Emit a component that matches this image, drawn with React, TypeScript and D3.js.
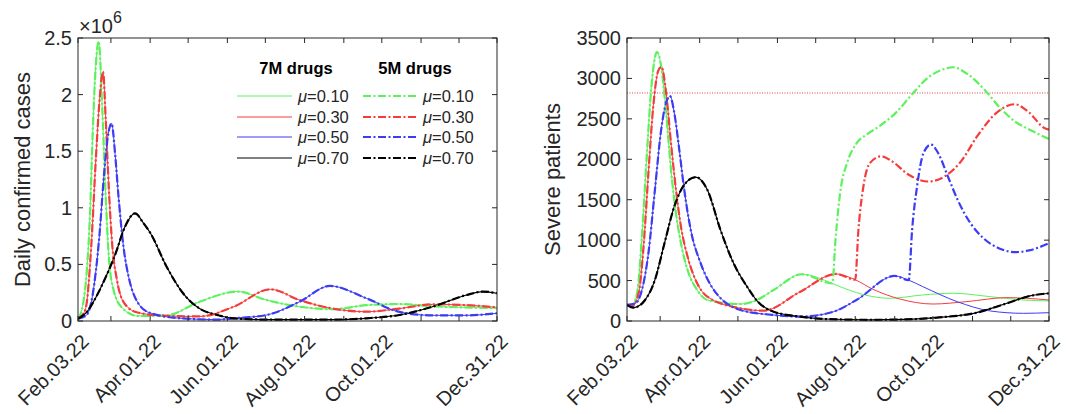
import React from 'react';
import * as d3 from 'd3';

// day 0 = Feb 3 2022
const startDate = new Date(2022, 1, 3);

const tickDates = ['2022-02-03', '2022-03-01', '2022-04-01', '2022-05-01', '2022-06-01', '2022-07-01',
  '2022-08-01', '2022-09-01', '2022-10-01', '2022-11-01', '2022-12-01', '2022-12-31'];
const labelDates = ['2022-02-03', '2022-04-01', '2022-06-01', '2022-08-01', '2022-10-01', '2022-12-31'];
const labelTexts = ['Feb.03.22', 'Apr.01.22', 'Jun.01.22', 'Aug.01.22', 'Oct.01.22', 'Dec.31.22'];
const muLabels = ['0.10', '0.30', '0.50', '0.70'];

const casesTicks = [0, 0.5, 1, 1.5, 2, 2.5];
const severeTicks = [0, 500, 1000, 1500, 2000, 2500, 3000, 3500];
const icuCapacity = 2820;

type Pt = [number, number]; // [day since Feb 3, value]

// daily confirmed cases, x10^6 (7M and 5M drugs overlap)
const casesGreen: Pt[] = [[0, 0.02], [4, 0.15], [7, 0.45], [9.5, 0.95], [11.7, 1.69], [14.2, 2.28], [16.3, 2.47],
  [19.3, 1.84], [21.9, 1.1], [24.4, 0.56], [28.2, 0.27], [34.6, 0.12], [47, 0.045], [70, 0.05], [96, 0.17],
  [126, 0.26], [149, 0.185], [175, 0.126], [201, 0.105], [228, 0.14], [254, 0.15], [280, 0.13], [331, 0.115]];
const casesRed: Pt[] = [[0, 0.02], [4, 0.06], [6.6, 0.14], [10.4, 0.65], [14.2, 1.45], [17.3, 1.99], [19.8, 2.2],
  [21.9, 1.78], [24.4, 1.16], [27, 0.68], [30.8, 0.36], [37, 0.15], [47, 0.075], [70, 0.045], [96, 0.04],
  [123, 0.126], [152, 0.28], [175, 0.185], [201, 0.11], [228, 0.082], [254, 0.11], [280, 0.147], [307, 0.14], [331, 0.12]];
const casesBlue: Pt[] = [[0, 0.02], [6.6, 0.05], [11.7, 0.24], [16.8, 0.74], [20.6, 1.3], [24, 1.66], [26.5, 1.745],
  [29.5, 1.45], [32, 1.1], [36, 0.65], [40, 0.39], [45, 0.21], [56, 0.075], [80, 0.025], [110, 0.012], [123, 0.024],
  [149, 0.053], [175, 0.17], [199, 0.31], [228, 0.2], [254, 0.08], [280, 0.05], [307, 0.05], [331, 0.068]];
const casesBlack: Pt[] = [[0, 0.02], [6.6, 0.075], [14.2, 0.21], [22, 0.39], [29.5, 0.59], [37, 0.83], [45, 0.95],
  [52, 0.86], [57, 0.78], [70, 0.48], [83, 0.245], [96, 0.11], [110, 0.053], [123, 0.024], [150, 0.012],
  [201, 0.012], [228, 0.024], [254, 0.053], [280, 0.126], [307, 0.23], [320, 0.26], [331, 0.245]];

// severe patients, 7M drugs
const severeGreen7M: Pt[] = [[0, 200], [4, 198], [7.9, 343], [11.7, 1045], [15.5, 2036], [19.4, 2945], [23.5, 3325],
  [26.8, 3150], [30.7, 2573], [34.5, 1871], [38.4, 1334], [42.3, 962], [47.5, 632], [55, 384], [63, 260], [89, 210],
  [102, 260], [115, 384], [137, 578], [161, 465], [167, 425], [193, 301], [206, 281], [232, 322], [256, 343],
  [285, 301], [311, 260], [331, 248]];
const severeRed7M: Pt[] = [[0, 200], [4, 186], [9.1, 343], [13, 921], [16.8, 1830], [20.6, 2656], [24.4, 3089],
  [27, 3143], [30.7, 2821], [34.5, 2201], [38.4, 1623], [42.3, 1169], [47.5, 797], [55, 467], [63, 301], [89, 157],
  [107, 128], [136, 363], [164, 582], [179, 510], [193, 392], [214, 272], [240, 210], [266, 239], [298, 289], [331, 260]];
const severeBlue7M: Pt[] = [[0, 200], [6.6, 219], [11.7, 384], [16.8, 838], [21.9, 1623], [26.8, 2366], [30.6, 2697],
  [33.8, 2780], [37.1, 2573], [41, 2119], [44.9, 1623], [50, 1127], [57.8, 714], [65.6, 446], [89, 136], [115, 74],
  [136, 54], [162, 115], [180, 260], [210, 557], [221, 505], [232, 425], [259, 239], [285, 124], [311, 95], [331, 103]];
const severeBlack: Pt[] = [[0, 200], [5, 165], [14.2, 260], [21.9, 508], [29.4, 962], [37.1, 1417], [44.9, 1685],
  [53.9, 1780], [63, 1623], [73.3, 1127], [83.6, 714], [95, 405], [102, 250], [115, 115], [136, 54], [154, 25],
  [190, 15], [219, 20], [245, 45], [272, 95], [298, 219], [316, 310], [331, 343]];

// severe patients, 5M drugs: follows 7M until drugs run out
const greenRunOut: Pt[] = [[161, 465], [163.7, 1039], [167.5, 1621], [172.6, 1953], [180.3, 2203], [188, 2307],
  [198, 2410], [211, 2577], [223.6, 2805], [236.4, 3013], [249, 3117], [255.5, 3138], [267, 3055], [280, 2868],
  [292.5, 2639], [305, 2460], [315.5, 2369], [331, 2250]];
const redRunOut: Pt[] = [[179, 510], [181.5, 1122], [185.4, 1663], [190.5, 1953], [199.4, 2037], [208, 1974],
  [221, 1808], [236.4, 1725], [249, 1787], [262, 1974], [274.7, 2286], [290, 2577], [304, 2681], [315.5, 2577],
  [327, 2390], [331, 2365]];
const blueRunOut: Pt[] = [[221, 505], [223.6, 1122], [227.5, 1663], [232.6, 2078], [238.4, 2182], [244, 2078],
  [251.7, 1787], [259.4, 1496], [269.6, 1205], [280, 1018], [292.5, 894], [305, 852], [315.5, 873], [331, 962]];

const withRunOut = (base: Pt[], tail: Pt[]) => [...base.filter(p => p[0] < tail[0][0]), ...tail];

const GREEN = '#5cf25c';
const RED = '#f53c3c';
const BLUE = '#3c3cf5';
const BLACK = '#000000';
const colors = [GREEN, RED, BLUE, BLACK];
const DASH = '8 2.5 2 2.5';
const AXIS = '#262626';
const FONT = '"Liberation Sans", Arial, Helvetica, sans-serif';

const parse = d3.timeParse('%Y-%m-%d');
const dayDate = (d: number) => new Date(startDate.getTime() + d * 864e5);

interface PanelProps {
  left: number; right: number; top: number; bottom: number;
  yMax: number; yTicks: number[]; fmt: (v: number) => string;
  label: string; labelX: number;
  solid: Pt[][]; dashed: Pt[][];
  children?: (x: d3.ScaleTime<number, number>, y: d3.ScaleLinear<number, number>) => React.ReactNode;
}

function Panel({ left, right, top, bottom, yMax, yTicks, fmt, label, labelX, solid, dashed, children }: PanelProps) {
  const x = d3.scaleTime().domain([parse('2022-02-03')!, parse('2022-12-31')!]).range([left, right]);
  const y = d3.scaleLinear().domain([0, yMax]).range([bottom, top]);
  const line = d3.line<Pt>().x(p => x(dayDate(p[0]))).y(p => y(p[1])).curve(d3.curveMonotoneX);
  const tl = 5;
  return (
    <g>
      <defs>
        <clipPath id={`clip${left}`}><rect x={left} y={top} width={right - left} height={bottom - top} /></clipPath>
      </defs>
      <g clipPath={`url(#clip${left})`}>
        {children && children(x, y)}
        {solid.map((s, i) => (
          <path key={'s' + i} d={line(s)!} fill="none" stroke={colors[i]} strokeWidth={i === 3 ? 1.2 : 1} />
        ))}
        {dashed.map((s, i) => (
          <path key={'d' + i} d={line(s)!} fill="none" stroke={colors[i]} strokeWidth={2.2} strokeDasharray={DASH} />
        ))}
      </g>
      <rect x={left} y={top} width={right - left} height={bottom - top} fill="none" stroke={AXIS} strokeWidth={1} />
      {tickDates.map(t => {
        const px = x(parse(t)!);
        return (
          <g key={t}>
            <line x1={px} x2={px} y1={bottom} y2={bottom - tl} stroke={AXIS} />
            <line x1={px} x2={px} y1={top} y2={top + tl} stroke={AXIS} />
          </g>
        );
      })}
      {yTicks.map(v => (
        <g key={v}>
          <line x1={left} x2={left + tl} y1={y(v)} y2={y(v)} stroke={AXIS} />
          <line x1={right} x2={right - tl} y1={y(v)} y2={y(v)} stroke={AXIS} />
          <text x={left - 6} y={y(v) + 7} textAnchor="end" fontSize={20} fill={AXIS}>{fmt(v)}</text>
        </g>
      ))}
      {labelDates.map((t, i) => {
        const px = x(parse(t)!);
        return (
          <text key={t} transform={`translate(${px + 12},${bottom + 22}) rotate(-45)`} textAnchor="end"
            fontSize={20} fill={AXIS}>{labelTexts[i]}</text>
        );
      })}
      <text transform={`translate(${labelX},${(top + bottom) / 2}) rotate(-90)`} textAnchor="middle"
        fontSize={22} fill={AXIS}>{label}</text>
    </g>
  );
}

function Legend() {
  const rows = [96, 117, 137, 158];
  return (
    <g fontSize={16.5} fill={AXIS}>
      <text x={296} y={74} textAnchor="middle" fontWeight="bold" fill="#000">7M drugs</text>
      <text x={415} y={74} textAnchor="middle" fontWeight="bold" fill="#000">5M drugs</text>
      {rows.map((ry, i) => (
        <g key={ry}>
          <line x1={237} x2={292} y1={ry} y2={ry} stroke={colors[i]} strokeWidth={1} />
          <text x={298} y={ry + 6}><tspan fontStyle="italic">μ</tspan>={muLabels[i]}</text>
          <line x1={363} x2={417} y1={ry} y2={ry} stroke={colors[i]} strokeWidth={2.2} strokeDasharray={DASH} />
          <text x={423} y={ry + 6}><tspan fontStyle="italic">μ</tspan>={muLabels[i]}</text>
        </g>
      ))}
    </g>
  );
}

export default function App() {
  const cases = [casesGreen, casesRed, casesBlue, casesBlack];
  const severe7 = [severeGreen7M, severeRed7M, severeBlue7M, severeBlack];
  const severe5 = [withRunOut(severeGreen7M, greenRunOut), withRunOut(severeRed7M, redRunOut),
    withRunOut(severeBlue7M, blueRunOut), severeBlack];
  return (
    <svg width={1074} height={414} style={{ position: 'absolute', left: 0, top: 0, background: '#fff' }}
      fontFamily={FONT}>
      <Panel left={78} right={497} top={38} bottom={321} yMax={2.5} yTicks={casesTicks}
        fmt={v => String(v)} label="Daily confirmed cases" labelX={30} solid={cases} dashed={cases} />
      <text x={79} y={33} fontSize={20} fill={AXIS}>×10<tspan dy={-10} fontSize={16}>6</tspan></text>
      <Legend />
      <Panel left={627} right={1049} top={38} bottom={321} yMax={3500} yTicks={severeTicks}
        fmt={v => String(v)} label="Severe patients" labelX={560} solid={severe7} dashed={severe5}>
        {(x, y) => (
          <line x1={627} x2={1049} y1={y(icuCapacity)} y2={y(icuCapacity)} stroke="#d11" strokeWidth={0.8}
            strokeDasharray="1 1.5" />
        )}
      </Panel>
    </svg>
  );
}
